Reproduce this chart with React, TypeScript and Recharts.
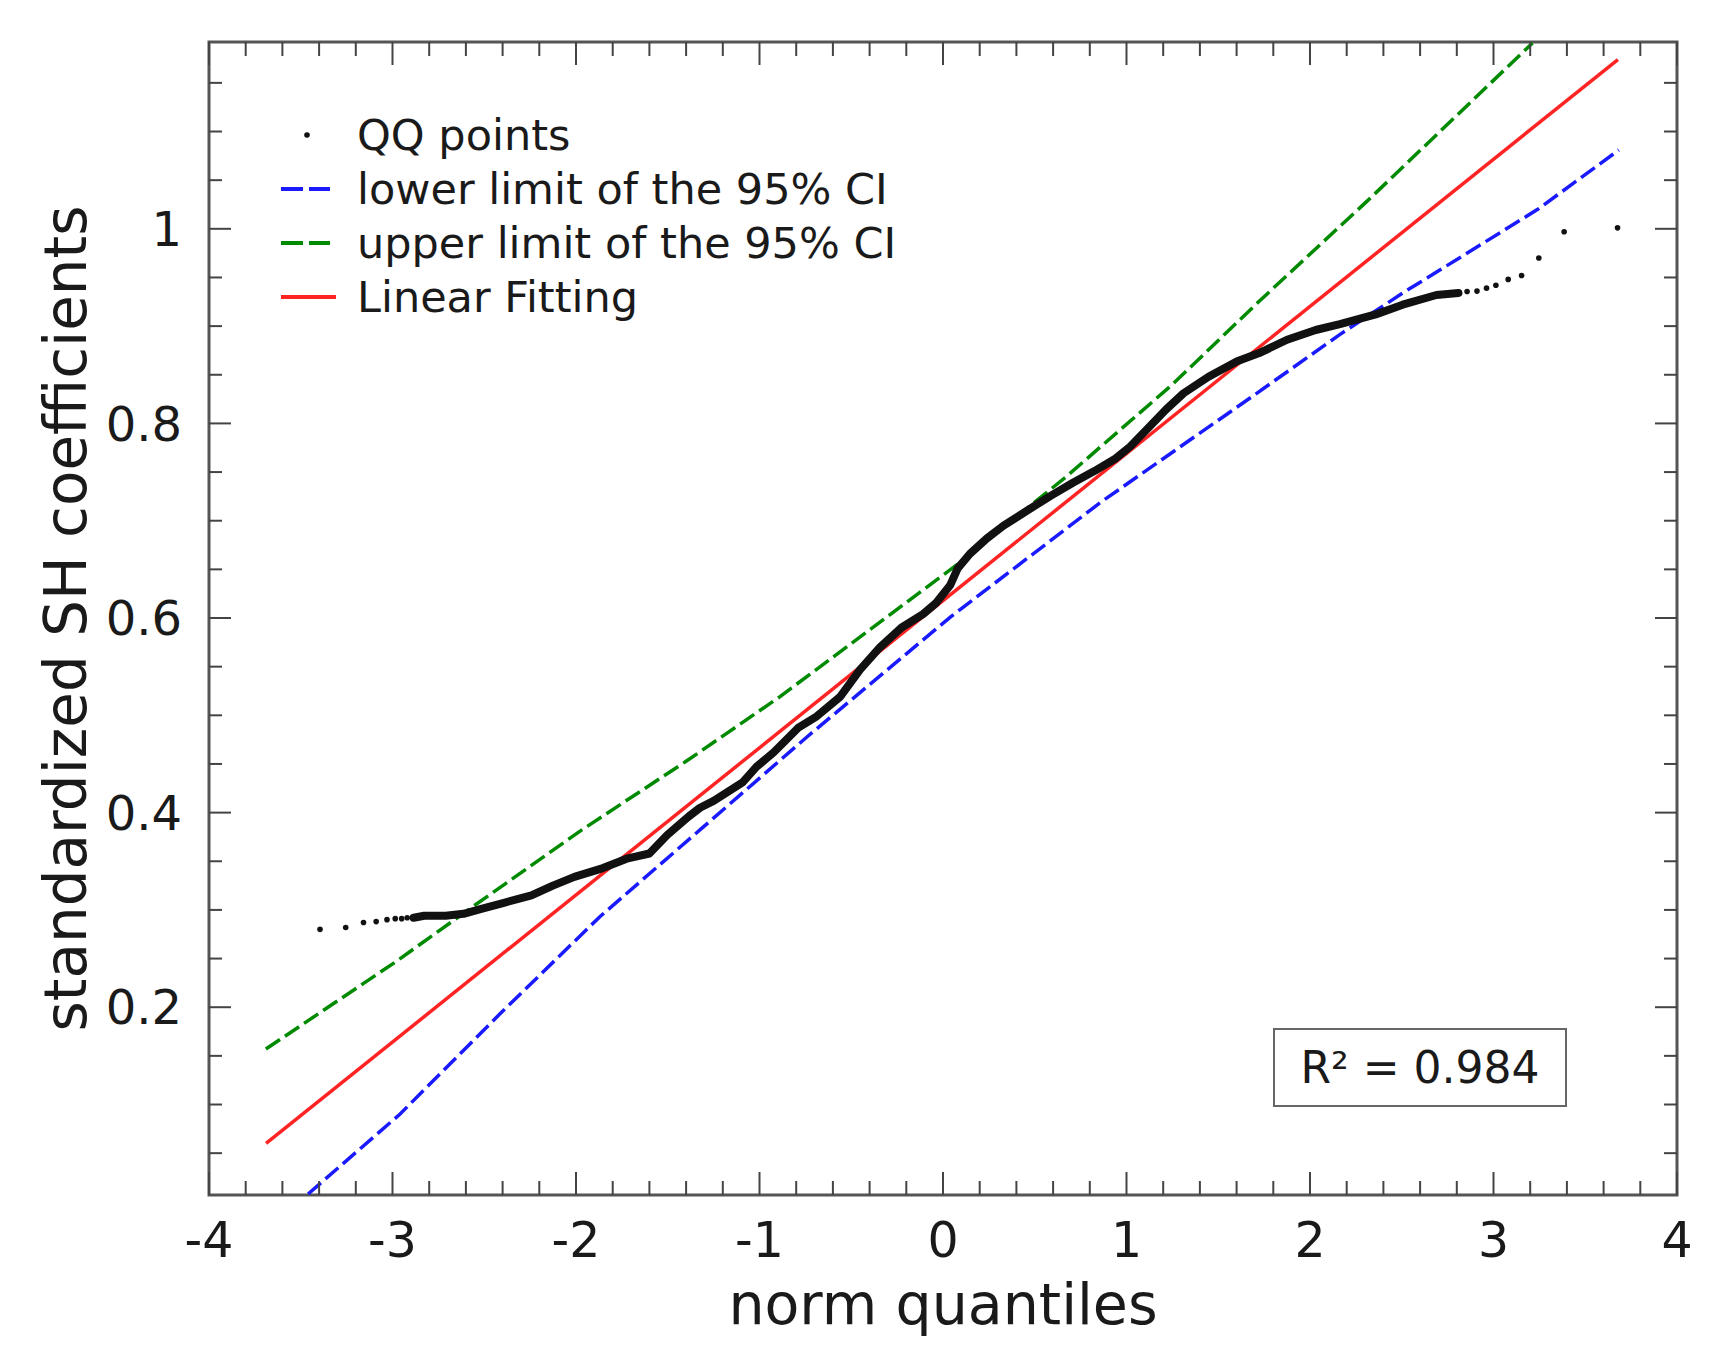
import React from "react";
import { ScatterChart, Scatter, XAxis, YAxis, ReferenceArea, Legend } from "recharts";

// axes
const X_DOMAIN = [-4, 4];
const Y_DOMAIN = [0.007, 1.192];
const X_MAJOR = [-4, -3, -2, -1, 0, 1, 2, 3, 4];
const Y_MAJOR = [0.2, 0.4, 0.6, 0.8, 1];
const X_TICKS = Array.from({ length: 41 }, (_, i) => Math.round((-4 + i * 0.2) * 10) / 10);
const Y_TICKS = Array.from({ length: 23 }, (_, i) => Math.round((0.05 + i * 0.05) * 100) / 100);

// QQ points
const QQ_LOW_TAIL = [
  [-3.395, 0.28], [-3.255, 0.282], [-3.158, 0.287], [-3.089, 0.288],
  [-3.03, 0.29], [-2.985, 0.291], [-2.95, 0.291], [-2.92, 0.292],
];
const QQ_BODY = [
  [-2.885, 0.292], [-2.827, 0.294], [-2.71, 0.294], [-2.613, 0.296], [-2.516, 0.301],
  [-2.398, 0.307], [-2.243, 0.315], [-2.126, 0.325], [-2.009, 0.334], [-1.853, 0.343],
  [-1.717, 0.353], [-1.6, 0.358], [-1.503, 0.377], [-1.386, 0.396], [-1.324, 0.405],
  [-1.25, 0.412], [-1.092, 0.431], [-1.017, 0.447], [-0.922, 0.462], [-0.79, 0.487],
  [-0.688, 0.499], [-0.561, 0.519], [-0.452, 0.547], [-0.343, 0.57], [-0.227, 0.59],
  [-0.109, 0.604], [-0.04, 0.615], [0.04, 0.634], [0.08, 0.651], [0.147, 0.666],
  [0.24, 0.682], [0.33, 0.695], [0.48, 0.713], [0.591, 0.726], [0.708, 0.739],
  [0.825, 0.751], [0.941, 0.764], [1.019, 0.776], [1.117, 0.795], [1.214, 0.814],
  [1.311, 0.831], [1.447, 0.848], [1.603, 0.864], [1.72, 0.872], [1.875, 0.886],
  [2.031, 0.896], [2.163, 0.902], [2.358, 0.912], [2.505, 0.922], [2.689, 0.932],
  [2.809, 0.934],
];
const QQ_HIGH_TAIL = [
  [2.856, 0.9355], [2.91, 0.936], [2.962, 0.939], [3.013, 0.942], [3.08, 0.948],
  [3.153, 0.952], [3.247, 0.97], [3.385, 0.997], [3.676, 1.001],
];

// 95% CI limits and the fitted line
const LOWER_CI = [
  [-3.46, 0.008], [-2.96, 0.09], [-2.41, 0.194], [-1.87, 0.293], [-1.32, 0.383],
  [-0.74, 0.478], [0.04, 0.601], [0.86, 0.719], [1.65, 0.823], [2.16, 0.891],
  [2.505, 0.934], [3.241, 1.02], [3.683, 1.081],
];
const UPPER_CI = [
  [-3.69, 0.157], [-2.98, 0.247], [-2.55, 0.305], [-1.97, 0.382], [-1.39, 0.454],
  [-0.89, 0.519], [0.085, 0.656], [0.67, 0.745], [1.25, 0.84], [1.72, 0.925],
  [2.32, 1.03], [3.213, 1.191],
];
const LINEAR_FIT = [[-3.689, 0.06], [3.678, 1.174]];

const R2_TEXT = "R\u00b2 = 0.984";
const LEGEND_ITEMS = [
  { name: "QQ points", kind: "dot", color: "#111" },
  { name: "lower limit of the 95% CI", kind: "dash", color: "#1a1aff" },
  { name: "upper limit of the 95% CI", kind: "dash", color: "#008a00" },
  { name: "Linear Fitting", kind: "line", color: "#ff2424" },
];

const toPts = (arr: number[][]) => arr.map(([x, y]) => ({ x, y }));

const FONT = "DejaVu Sans, Verdana, sans-serif";
const PLOT_TOP = 42;
const PLOT_BOTTOM = 1195;
const PLOT_LEFT = 209;
const PLOT_RIGHT = 1677;
const AXIS_COLOR = "#444";

const isMajor = (v: number, majors: number[]) => majors.some((m) => Math.abs(m - v) < 1e-6);

function XTick(props: any) {
  const { x, payload } = props;
  const v = payload.value;
  const major = isMajor(v, X_MAJOR);
  const len = major ? 23 : 14;
  return (
    <g>
      <line x1={x} x2={x} y1={PLOT_BOTTOM} y2={PLOT_BOTTOM - len} stroke={AXIS_COLOR} strokeWidth={2} />
      <line x1={x} x2={x} y1={PLOT_TOP} y2={PLOT_TOP + len} stroke={AXIS_COLOR} strokeWidth={2} />
      {major && (
        <text x={x} y={1257} textAnchor="middle" fontSize={49} fontFamily={FONT} fill="#1a1a1a">
          {String(v)}
        </text>
      )}
    </g>
  );
}

function YTick(props: any) {
  const { y, payload } = props;
  const v = payload.value;
  const major = isMajor(v, Y_MAJOR);
  const len = major ? 22 : 13;
  return (
    <g>
      <line x1={PLOT_LEFT} x2={PLOT_LEFT + len} y1={y} y2={y} stroke={AXIS_COLOR} strokeWidth={2} />
      <line x1={PLOT_RIGHT} x2={PLOT_RIGHT - len} y1={y} y2={y} stroke={AXIS_COLOR} strokeWidth={2} />
      {major && (
        <text x={182} y={y} dy="0.36em" textAnchor="end" fontSize={48} fontFamily={FONT} fill="#1a1a1a">
          {String(v)}
        </text>
      )}
    </g>
  );
}

function LegendContent() {
  return (
    <div style={{ fontFamily: FONT, fontSize: 43, color: "#1a1a1a" }}>
      {LEGEND_ITEMS.map((it) => (
        <div key={it.name} style={{ display: "flex", alignItems: "center", height: 54 }}>
          <svg width={87} height={54} style={{ flex: "none" }}>
            {it.kind === "dot" && <circle cx={37} cy={27} r={2.8} fill={it.color} />}
            {it.kind === "dash" && (
              <line x1={11} x2={60} y1={27} y2={27} stroke={it.color} strokeWidth={4} strokeDasharray="22 6" />
            )}
            {it.kind === "line" && <line x1={11} x2={66} y1={27} y2={27} stroke={it.color} strokeWidth={4} />}
          </svg>
          <span style={{ whiteSpace: "nowrap", lineHeight: "54px" }}>{it.name}</span>
        </div>
      ))}
    </div>
  );
}

const noShape = () => <g />;
const dotShape = (p: any) => <circle cx={p.cx} cy={p.cy} r={2.8} fill="#111" />;

export default function App() {
  return (
    <div style={{ position: "absolute", left: 0, top: 0, width: 1730, height: 1354, background: "#fff" }}>
      <ScatterChart width={1730} height={1354} margin={{ top: PLOT_TOP, right: 1730 - PLOT_RIGHT, bottom: 0, left: 0 }}>
        <XAxis
          type="number"
          dataKey="x"
          domain={X_DOMAIN}
          ticks={X_TICKS}
          interval={0}
          allowDataOverflow
          height={1354 - PLOT_BOTTOM}
          axisLine={false}
          tickLine={false}
          tick={<XTick />}
          label={() => (
            <text x={(PLOT_LEFT + PLOT_RIGHT) / 2} y={1324} textAnchor="middle" fontSize={57} fontFamily={FONT} fill="#1a1a1a">
              norm quantiles
            </text>
          )}
        />
        <YAxis
          type="number"
          dataKey="y"
          domain={Y_DOMAIN}
          ticks={Y_TICKS}
          interval={0}
          allowDataOverflow
          width={PLOT_LEFT}
          axisLine={false}
          tickLine={false}
          tick={<YTick />}
          label={() => (
            <text
              x={66}
              y={(PLOT_TOP + PLOT_BOTTOM) / 2}
              transform={`rotate(-90 66 ${(PLOT_TOP + PLOT_BOTTOM) / 2})`}
              textAnchor="middle"
              dominantBaseline="central"
              fontSize={58}
              fontFamily={FONT}
              fill="#1a1a1a"
            >
              standardized SH coefficients
            </text>
          )}
        />
        <Scatter
          name="upper limit of the 95% CI"
          data={toPts(UPPER_CI)}
          fill="#008a00"
          line={{ stroke: "#008a00", strokeWidth: 3.5, strokeDasharray: "17 6" }}
          lineType="joint"
          shape={noShape}
          isAnimationActive={false}
        />
        <Scatter
          name="lower limit of the 95% CI"
          data={toPts(LOWER_CI)}
          fill="#1a1aff"
          line={{ stroke: "#1a1aff", strokeWidth: 3.5, strokeDasharray: "17 6" }}
          lineType="joint"
          shape={noShape}
          isAnimationActive={false}
        />
        <Scatter
          name="Linear Fitting"
          data={toPts(LINEAR_FIT)}
          fill="#ff2424"
          line={{ stroke: "#ff2424", strokeWidth: 3.5 }}
          lineType="joint"
          shape={noShape}
          isAnimationActive={false}
        />
        <Scatter
          name="QQ body"
          data={toPts(QQ_BODY)}
          fill="#111"
          line={{ stroke: "#111", strokeWidth: 8, strokeLinejoin: "round", strokeLinecap: "round" }}
          lineType="joint"
          shape={noShape}
          isAnimationActive={false}
        />
        <Scatter
          name="QQ points"
          data={toPts([...QQ_LOW_TAIL, ...QQ_HIGH_TAIL])}
          fill="#111"
          shape={dotShape}
          isAnimationActive={false}
        />
        <ReferenceArea
          x1={X_DOMAIN[0]}
          x2={X_DOMAIN[1]}
          y1={Y_DOMAIN[0]}
          y2={Y_DOMAIN[1]}
          fill="none"
          fillOpacity={0}
          stroke="#555"
          strokeWidth={3}
          ifOverflow="visible"
        />
        <Legend
          layout="vertical"
          align="center"
          verticalAlign="middle"
          wrapperStyle={{ left: 270, top: 108, width: 640 }}
          content={LegendContent}
        />
      </ScatterChart>
      <div
        style={{
          position: "absolute",
          left: 1273,
          top: 1028,
          width: 290,
          height: 75,
          border: "2px solid #666",
          display: "flex",
          alignItems: "center",
          justifyContent: "center",
          fontFamily: FONT,
          fontSize: 44,
          color: "#1a1a1a",
          background: "#fff",
        }}
      >
        {R2_TEXT}
      </div>
    </div>
  );
}
